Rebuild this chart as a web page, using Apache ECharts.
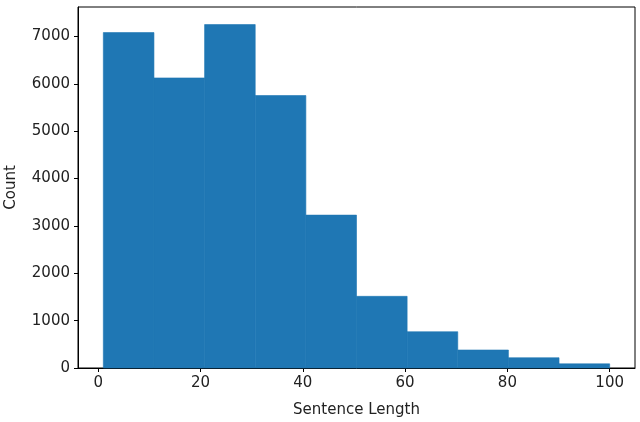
<!DOCTYPE html>
<html>
<head>
<meta charset="utf-8">
<script src="https://cdn.jsdelivr.net/npm/echarts@6/dist/echarts.min.js"></script>
<style>
  html, body { margin: 0; padding: 0; background: #fff; }
  #main { width: 640px; height: 422px; }
</style>
</head>
<body>
<div id="main"></div>
<script>
// histogram bins (left edge .. right edge) and counts
const binEdges = [1, 10.9, 20.8, 30.7, 40.6, 50.5, 60.4, 70.3, 80.2, 90.1, 100];
const counts = [7082, 6124, 7251, 5753, 3228, 1513, 766, 380, 217, 88];
const xTicks = [0, 20, 40, 60, 80, 100];
const yTicks = [0, 1000, 2000, 3000, 4000, 5000, 6000, 7000];

const font = 'DejaVu Sans';

const bars = counts.map((c, i) => [binEdges[i], binEdges[i + 1], c]);

const chart = echarts.init(document.getElementById('main'));

const option = {
  animation: false,
  grid: {
    left: 78,
    right: 5,
    top: 7,
    bottom: 54,
    containLabel: false,
    outerBoundsMode: 'none',
    show: true,
    borderColor: '#000',
    borderWidth: 1,
    backgroundColor: 'transparent'
  },
  xAxis: {
    type: 'value',
    min: -3.95,
    max: 104.95,
    name: 'Sentence Length',
    nameLocation: 'middle',
    nameGap: 35,
    nameTextStyle: { fontFamily: font, fontSize: 15, color: '#222' },
    axisLine: { show: true, onZero: false, lineStyle: { color: '#000' } },
    axisTick: { show: true, length: 4, customValues: xTicks, lineStyle: { color: '#000' } },
    axisLabel: { customValues: xTicks, margin: 8, fontFamily: font, fontSize: 15, color: '#222',
      formatter: v => String(v) },
    splitLine: { show: false }
  },
  yAxis: {
    type: 'value',
    min: 0,
    max: 7622,
    name: 'Count',
    nameLocation: 'middle',
    nameGap: 59,
    nameRotate: 90,
    nameTextStyle: { fontFamily: font, fontSize: 15, color: '#222' },
    axisLine: { show: true, onZero: false, lineStyle: { color: '#000' } },
    axisTick: { show: true, length: 4, customValues: yTicks, lineStyle: { color: '#000' } },
    axisLabel: { customValues: yTicks, margin: 8, fontFamily: font, fontSize: 15, color: '#222',
      formatter: v => String(v) },
    splitLine: { show: false }
  },
  series: [{
    type: 'custom',
    data: bars,
    encode: { x: [0, 1], y: 2 },
    renderItem: function (params, api) {
      const p0 = api.coord([api.value(0), 0]);
      const p1 = api.coord([api.value(1), api.value(2)]);
      return {
        type: 'rect',
        shape: { x: p0[0], y: p1[1], width: p1[0] - p0[0], height: p0[1] - p1[1] },
        style: { fill: '#1f77b4', stroke: '#1f77b4', lineWidth: 0.6 }
      };
    }
  }]
};

chart.setOption(option);
</script>
</body>
</html>
